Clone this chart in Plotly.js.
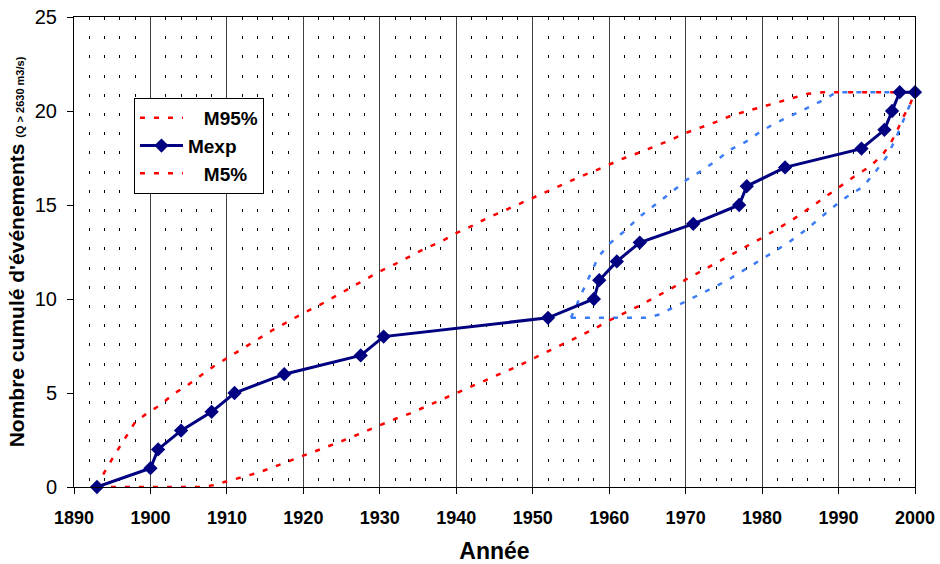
<!DOCTYPE html>
<html>
<head>
<meta charset="utf-8">
<script src="https://cdn.plot.ly/plotly-3.0.1.min.js"></script>
<style>html,body{margin:0;padding:0;background:#fff;}#chart{width:940px;height:564px;}</style>
</head>
<body>
<div id="chart"></div>
<script>
// Observed cumulative events
var mexpX = [1893,1900,1901,1904,1908,1911,1917.5,1927.5,1930.5,1952,1958,1958.7,1961,1964,1971,1977,1978,1983,1993,1996,1997,1998,2000];
var mexpY = [0,1,2,3,4,5,6,7,8,9,10,11,12,13,14,15,16,17,18,19,20,21,21];

// M95% envelope (upper red)
var m95X = [1893,1894,1895,1896,1897,1898,1899.7,1901.3,1903,1904.7,1906.5,1908.2,1910,1912,1914,1916,1918,1920,1922,1924,1926,1928,1930,1932,1934,1936,1938,1940,1942,1944,1946,1948,1950,1952,1954,1956,1958,1960,1962,1964,1966,1968,1970,1972,1974,1976,1978,1980,1982,1984,1986,1988,2000];
var m95Y = [0,0.8,1.5,2.15,2.85,3.45,3.97,4.36,4.95,5.37,5.9,6.4,6.85,7.35,7.85,8.35,8.8,9.25,9.65,10.1,10.55,11.0,11.47,11.86,12.3,12.7,13.05,13.5,13.87,14.3,14.65,15.02,15.4,15.75,16.12,16.47,16.8,17.15,17.5,17.8,18.13,18.45,18.83,19.12,19.42,19.76,20.0,20.2,20.45,20.72,20.92,21,21];

// M5% envelope (lower red)
var m5X = [1893,1907,1908.2,1910,1912,1914,1916,1918,1920,1922,1924,1926,1928,1930,1932,1934,1936,1938,1940,1942,1944,1946,1948,1950,1952,1954,1956,1958,1960,1962,1964,1966,1968,1970,1972,1974,1976,1978,1980,1982,1984,1986,1988,1990,1992,1994,1995.6,1996.7,1997.6,1998.5,1999.4,2000];
var m5Y = [0,0,0.1,0.3,0.52,0.75,1.05,1.35,1.65,1.97,2.28,2.6,2.95,3.3,3.62,3.92,4.28,4.6,4.97,5.32,5.68,6.07,6.42,6.82,7.22,7.62,8.0,8.4,8.86,9.26,9.65,10.1,10.52,11.03,11.47,11.9,12.35,12.8,13.25,13.73,14.22,14.78,15.35,15.95,16.5,17.02,17.6,18.2,18.9,19.7,20.4,21];

// Blue envelope since 1955 (upper and lower)
var bUpX = [1955,1955.8,1956.6,1957.5,1958.6,1960.1,1961.9,1964,1966,1968.2,1970.1,1972.1,1974.1,1975.8,1977.9,1979.7,1981.7,1983.6,1985.6,1987.6,1989.3,1990,2000];
var bUpY = [9,9.77,10.48,11.28,12.25,12.96,13.58,14.38,15.0,15.7,16.33,16.83,17.39,17.93,18.37,18.88,19.35,19.7,20.1,20.5,20.9,21,21];
var bLoX = [1955,1965,1966.6,1968.4,1970.4,1972.3,1974.1,1976,1977.8,1979.7,1981.7,1983.6,1985.4,1987.4,1989.2,1991.1,1993.2,1995,1996.3,1997.4,1998.3,1999.2,2000];
var bLoY = [9,9,9.18,9.54,9.95,10.3,10.7,11.13,11.58,12.02,12.55,13.05,13.58,14.24,14.86,15.44,15.97,16.86,17.57,18.46,19.3,20.2,21];

var xTicks = [1890,1900,1910,1920,1930,1940,1950,1960,1970,1980,1990,2000];
var yTicks = [0,5,10,15,20,25];

var FONT = 'Liberation Sans, Arial, sans-serif';
var RED = '#ff0000', BLUE = '#3c7df5', NAVY = '#000080';
var DASH = '5px,9px';

var traces = [
  {x: bUpX, y: bUpY, mode: 'lines', line: {color: BLUE, width: 2.5, dash: DASH}, showlegend: false, hoverinfo: 'skip'},
  {x: bLoX, y: bLoY, mode: 'lines', line: {color: BLUE, width: 2.5, dash: DASH}, showlegend: false, hoverinfo: 'skip'},
  {x: m95X, y: m95Y, mode: 'lines', name: '&nbsp;&nbsp;&nbsp;M95%', legendrank: 1, line: {color: RED, width: 2.5, dash: DASH}},
  {x: m5X, y: m5Y, mode: 'lines', name: '&nbsp;&nbsp;&nbsp;M5%', legendrank: 3, line: {color: RED, width: 2.5, dash: DASH}},
  {x: mexpX, y: mexpY, mode: 'lines+markers', name: 'Mexp', legendrank: 2, cliponaxis: false,
   line: {color: NAVY, width: 3}, marker: {symbol: 'diamond', size: 11, color: NAVY}}
];

var layout = {
  width: 940, height: 564,
  margin: {l: 74, r: 25, t: 17, b: 77},
  paper_bgcolor: '#fff', plot_bgcolor: '#fff',
  font: {family: FONT, color: '#000'},
  showlegend: true,
  legend: {x: 0.0713, y: 0.8277, xanchor: 'left', yanchor: 'top', bgcolor: '#fff', bordercolor: '#000', borderwidth: 1,
           itemwidth: 43,
           font: {family: FONT, size: 19, color: '#000', weight: 'bold'}, traceorder: 'normal', tracegroupgap: 0},
  xaxis: {
    range: [1890, 2000], tickmode: 'array', tickvals: xTicks, ticktext: xTicks.map(String),
    ticks: 'outside', ticklen: 6, tickcolor: '#000', tickwidth: 1, ticklabelstandoff: 8,
    showline: true, linecolor: '#000', linewidth: 1, mirror: true,
    showgrid: true, gridcolor: '#404040', gridwidth: 1, zeroline: false,
    minor: {dtick: 2, tick0: 1890, showgrid: true, gridcolor: '#000', gridwidth: 1, griddash: '3px,16.2px', ticks: ''},
    tickfont: {family: FONT, size: 18, weight: 'bold', color: '#000'},
    title: {text: 'Année', font: {family: FONT, size: 23, weight: 'bold', color: '#000'}, standoff: 16}
  },
  yaxis: {
    range: [0, 25], tickmode: 'array', tickvals: yTicks, ticktext: yTicks.map(String),
    ticks: 'outside', ticklen: 6, tickcolor: '#000', tickwidth: 1, ticklabelstandoff: 6,
    showline: true, linecolor: '#000', linewidth: 1, mirror: true,
    showgrid: false, zeroline: false,
    tickfont: {family: FONT, size: 20, color: '#000'},
    title: {text: "<b>Nombre cumulé d'événements <span style='font-size:11px'>(Q > 2630 m3/s)</span></b>",
            font: {family: FONT, size: 21, color: '#000'}, standoff: 4}
  }
};

Plotly.newPlot('chart', traces, layout, {displayModeBar: false, staticPlot: true});
</script>
</body>
</html>
